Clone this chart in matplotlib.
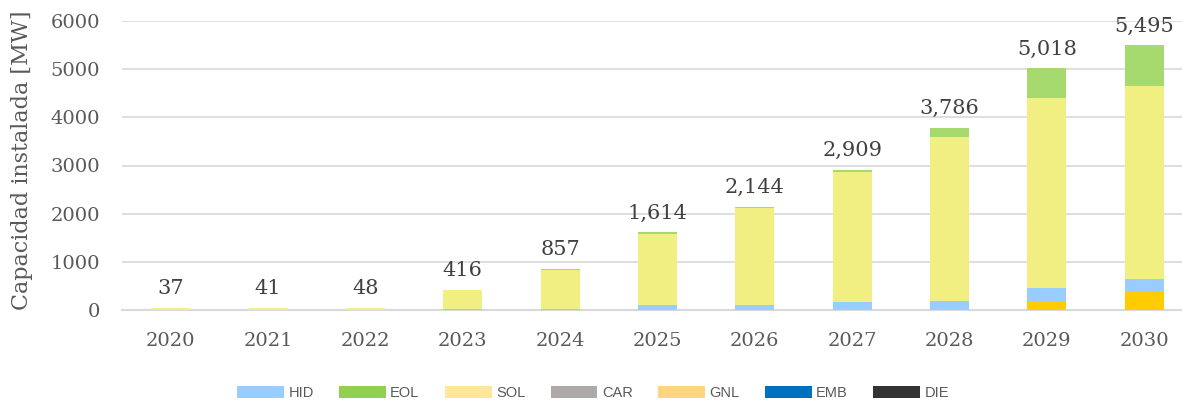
import matplotlib
matplotlib.use("Agg")
import matplotlib.pyplot as plt
from matplotlib.patches import Patch
import numpy as np

years = ["2020", "2021", "2022", "2023", "2024", "2025", "2026", "2027", "2028", "2029", "2030"]
gnl = [0, 0, 0, 0, 0, 0, 0, 0, 0, 190, 395]
hid = [0, 0, 0, 25, 30, 100, 100, 170, 190, 270, 250]
sol = [37, 41, 48, 381, 807, 1484, 2014, 2699, 3409, 3940, 4005]
eol = [0, 0, 0, 10, 20, 30, 30, 40, 187, 618, 845]
totals = [37, 41, 48, 416, 857, 1614, 2144, 2909, 3786, 5018, 5495]
yticks = [0, 1000, 2000, 3000, 4000, 5000, 6000]

legend_names = ["HID", "EOL", "SOL", "CAR", "GNL", "EMB", "DIE"]
legend_colors = ["#99CCFF", "#92D050", "#FFE699", "#AEAAAA", "#FFD580", "#0070C0", "#333333"]

bar_colors = {"GNL": "#FFCC00", "HID": "#99CCFF", "SOL": "#F2EF82", "EOL": "#A6DA6E"}

W, H = 1182, 401
fig = plt.figure(figsize=(W / 100, H / 100), dpi=100)
left_px, right_px = 122, 1193
bottom_px, top_px = 310, 21
ax = fig.add_axes([left_px / W, (H - bottom_px) / H, (right_px - left_px) / W, (bottom_px - top_px) / H])

x = np.arange(len(years))
width = 0.4
bottom = np.zeros(len(years))
for name, vals in [("GNL", gnl), ("HID", hid), ("SOL", sol), ("EOL", eol)]:
    ax.bar(x, vals, width, bottom=bottom, color=bar_colors[name], edgecolor="none", zorder=3)
    bottom += np.array(vals)

for xi, t in zip(x, totals):
    ax.annotate(f"{t:,}", (xi, t), xytext=(0, 7), textcoords="offset points",
                ha="center", va="bottom", fontsize=15, family="DejaVu Serif", color="#404040")

ax.set_xlim(-0.5, len(years) - 0.5)
ax.set_ylim(0, 6000)
ax.set_yticks(yticks)
ax.set_yticklabels([str(v) for v in yticks])
ax.set_xticks(x)
ax.set_xticklabels(years)
ax.grid(axis="y", color="#D9D9D9", linewidth=1.2, zorder=0)
for s in ["top", "right", "left"]:
    ax.spines[s].set_visible(False)
ax.spines["bottom"].set_color("#D9D9D9")
ax.spines["bottom"].set_linewidth(1.5)
ax.tick_params(axis="both", length=0, labelsize=14, labelcolor="#595959")
ax.tick_params(axis="x", pad=16)
ax.tick_params(axis="y", pad=16)
for lab in ax.get_xticklabels() + ax.get_yticklabels():
    lab.set_family("DejaVu Serif")

fig.text(22 / W, 1 - 160 / H, "Capacidad instalada [MW]", rotation=90, ha="center", va="center",
         fontsize=16, family="DejaVu Serif", color="#595959")

handles = [Patch(facecolor=c, edgecolor="none") for c in legend_colors]
fig.legend(handles, legend_names, loc="center", bbox_to_anchor=(593 / W, 1 - 393 / H), ncol=7,
           frameon=False, prop={"family": ["Liberation Sans Narrow", "Liberation Sans", "DejaVu Sans"], "size": 10.5},
           handlelength=3.2, handleheight=0.8, handletextpad=0.3, columnspacing=1.75, labelcolor="#595959")

fig.savefig("out.png", dpi=100)
